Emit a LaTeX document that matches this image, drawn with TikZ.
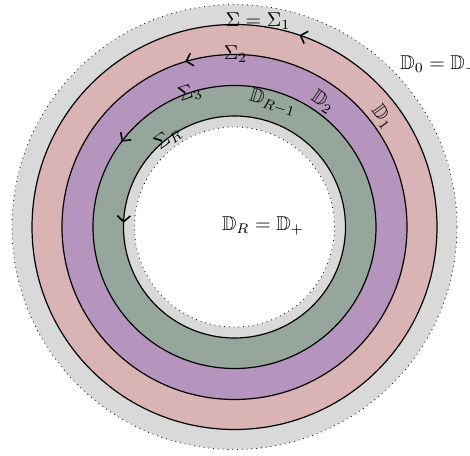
\documentclass[tikz,border=0pt]{standalone}
\usepackage{amssymb}
\usetikzlibrary{decorations.markings,arrows.meta}
\definecolor{ringgray}{RGB}{217,217,217}
\definecolor{ringpink}{RGB}{218,180,180}
\definecolor{ringpurple}{RGB}{181,149,190}
\definecolor{ringgreen}{RGB}{151,166,157}
\tikzset{
  bound/.style={draw=black, dotted, line width=0.4pt},
  contour/.style={draw=black, line width=0.6pt},
  arrowat/.style={postaction={decorate, decoration={markings,
     mark=at position #1 with {\arrow[line width=0.8pt]{Straight Barb[length=3pt,width=6.5pt]}}}}},
  lab/.style={inner sep=0pt}
}
\begin{document}
\begin{tikzpicture}[x=0.5pt,y=0.5pt]
\useasboundingbox (-234.5,-228) rectangle (235.5,227);
\fill[ringgray] (0,0) circle (222.5);
\draw[bound] (0,0) circle (222.5);
\fill[ringpink] (0,0) circle (202.5);
\fill[ringpurple] (0,0) circle (172.5);
\fill[ringgreen] (0,0) circle (141.5);
\fill[ringgray] (0,0) circle (111);
\fill[white] (0,0) circle (100);
\draw[bound] (0,0) circle (100);
\path[contour, arrowat=0.198] (0,0) circle (202.5);
\path[contour, arrowat=0.296] (0,0) circle (172.5);
\path[contour, arrowat=0.397] (0,0) circle (141.5);
\path[contour, arrowat=0.494] (0,0) circle (111);
\node[lab] (s1) at (23.5,206) {$\Sigma=\Sigma_1$};
\node[lab] (s2) at (1,173) {$\Sigma_2$};
\node[lab, rotate=18] (s3) at (-44.5,134) {$\Sigma_3$};
\node[lab, rotate=37] (sR) at (-66.5,89) {$\Sigma_R$};
\node[lab, rotate=-54] (d1) at (148.5,110) {$\mathbb{D}_1$};
\node[lab, rotate=-35] (d2) at (88.5,125) {$\mathbb{D}_2$};
\node[lab, rotate=-17] (dR1) at (38.5,124) {$\mathbb{D}_{R-1}$};
\node[lab, anchor=west] (d0) at (165.5,162) {$\mathbb{D}_0=\mathbb{D}_-$};
\node[lab] (dR) at (28.5,1) {$\mathbb{D}_R=\mathbb{D}_+$};
\end{tikzpicture}
\end{document}
